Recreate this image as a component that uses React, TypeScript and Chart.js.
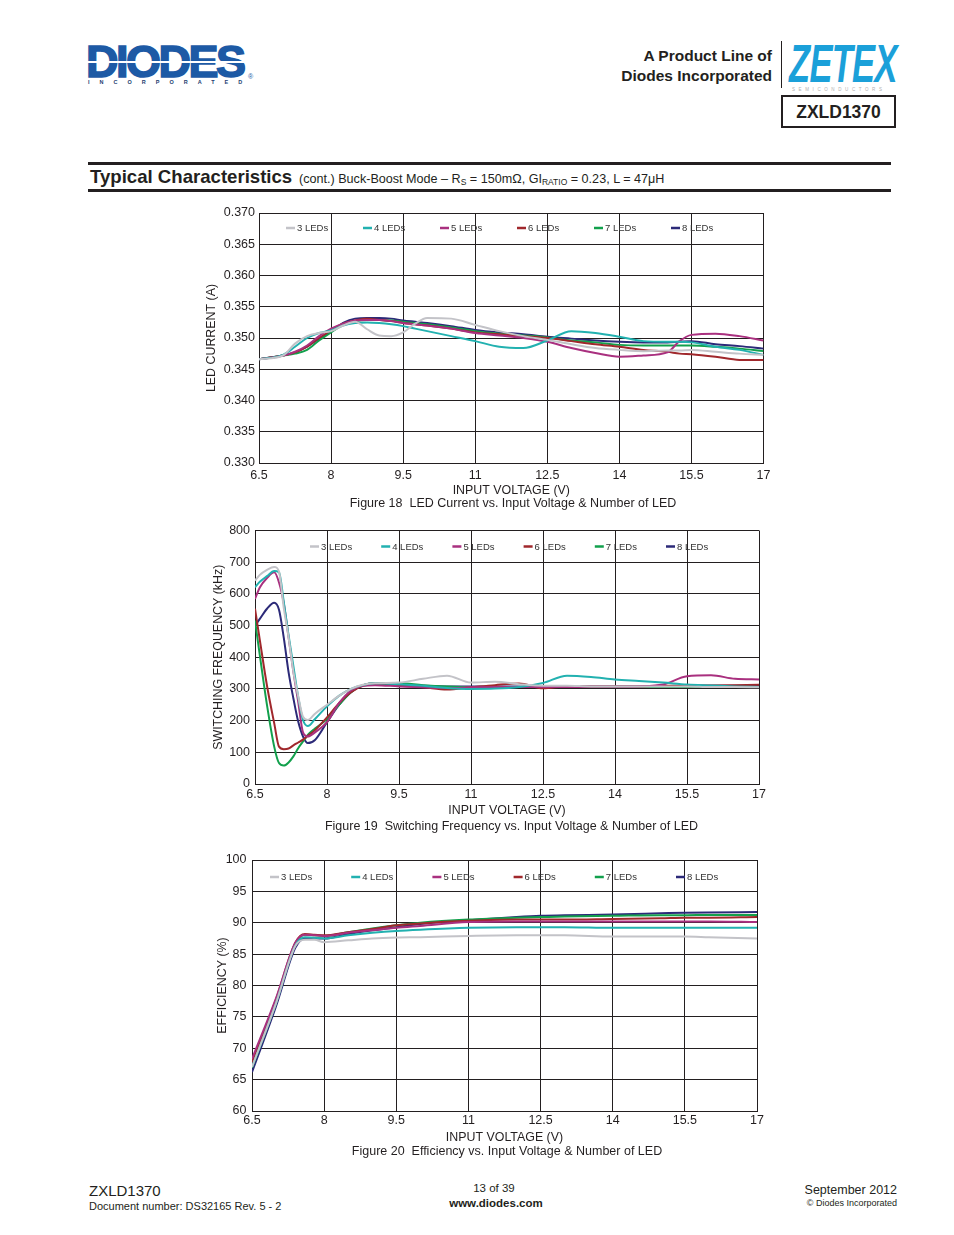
import React, { useEffect, useRef } from "react";
import { Chart, registerables } from "chart.js";

Chart.register(...registerables);

const FONT = '"Liberation Sans", Arial, Helvetica, sans-serif';
const TXT = "#231f20";
const GRID = "#231f20";

const SERIES_NAMES = ["3 LEDs", "4 LEDs", "5 LEDs", "6 LEDs", "7 LEDs", "8 LEDs"];
const SERIES_COLORS = ["#c3c3c8", "#22b1b0", "#a9307f", "#a0282c", "#12a04c", "#2c2a78"];

const X_TICKS = [6.5, 8, 9.5, 11, 12.5, 14, 15.5, 17];

// ---------- Figure 18: LED current (A) ----------
const VIN_18 = [6.5, 7.0, 7.25, 7.5, 7.75, 8.0, 8.25, 8.5, 8.75, 9.0, 9.25, 9.5, 9.75, 10.0, 10.5, 11.0, 11.5, 12.0, 12.5, 13.0, 13.5, 14.0, 14.5, 15.0, 15.25, 15.5, 16.0, 16.5, 17.0];
const CUR_3LED = [0.3466, 0.3472, 0.3491, 0.3503, 0.3508, 0.3511, 0.3520, 0.3526, 0.3514, 0.3504, 0.3503, 0.3509, 0.3523, 0.3532, 0.3531, 0.3521, 0.3511, 0.3503, 0.3497, 0.3490, 0.3484, 0.3481, 0.3479, 0.3480, 0.3480, 0.3481, 0.3478, 0.3475, 0.3473];
const CUR_4LED = [0.3466, 0.3473, 0.3486, 0.3500, 0.3508, 0.3512, 0.3520, 0.3524, 0.3525, 0.3524, 0.3522, 0.3519, 0.3515, 0.3511, 0.3503, 0.3495, 0.3486, 0.3484, 0.3496, 0.3511, 0.3508, 0.3502, 0.3495, 0.3494, 0.3494, 0.3493, 0.3486, 0.3481, 0.3473];
const CUR_5LED = [0.3466, 0.3472, 0.3478, 0.3488, 0.3503, 0.3515, 0.3523, 0.3528, 0.3529, 0.3529, 0.3527, 0.3524, 0.3522, 0.3520, 0.3515, 0.3508, 0.3504, 0.3500, 0.3494, 0.3484, 0.3476, 0.3470, 0.3472, 0.3477, 0.3495, 0.3505, 0.3507, 0.3503, 0.3496];
const CUR_6LED = [0.3466, 0.3472, 0.3477, 0.3486, 0.3500, 0.3512, 0.3523, 0.3528, 0.3531, 0.3529, 0.3527, 0.3524, 0.3522, 0.3520, 0.3515, 0.3509, 0.3506, 0.3503, 0.3500, 0.3495, 0.3490, 0.3486, 0.3481, 0.3478, 0.3475, 0.3474, 0.3470, 0.3465, 0.3465];
const CUR_7LED = [0.3466, 0.3472, 0.3475, 0.3481, 0.3496, 0.3509, 0.3521, 0.3527, 0.3529, 0.3529, 0.3528, 0.3526, 0.3524, 0.3522, 0.3517, 0.3511, 0.3507, 0.3504, 0.3501, 0.3496, 0.3493, 0.3489, 0.3488, 0.3488, 0.3488, 0.3488, 0.3486, 0.3483, 0.3479];
const CUR_8LED = [0.3466, 0.3472, 0.3477, 0.3486, 0.3499, 0.3510, 0.3524, 0.3531, 0.3532, 0.3532, 0.3531, 0.3528, 0.3526, 0.3524, 0.3519, 0.3513, 0.3509, 0.3506, 0.3502, 0.3499, 0.3496, 0.3494, 0.3493, 0.3493, 0.3494, 0.3495, 0.3490, 0.3487, 0.3483];
const Y_TICKS_18 = [0.33, 0.335, 0.34, 0.345, 0.35, 0.355, 0.36, 0.365, 0.37];

// ---------- Figure 19: switching frequency (kHz) ----------
const VIN_19 = [6.5, 6.6, 6.75, 6.9, 7.0, 7.1, 7.2, 7.3, 7.4, 7.5, 7.6, 7.75, 8.0, 8.25, 8.5, 8.75, 9.0, 9.5, 10.0, 10.5, 11.0, 11.5, 12.0, 12.5, 13.0, 13.5, 14.0, 14.5, 15.0, 15.5, 16.0, 16.5, 17.0];
const FSW_3LED = [642, 660, 676, 685, 670, 555, 462, 354, 277, 212, 202, 222, 250, 278, 300, 313, 318, 320, 332, 342, 320, 323, 315, 310, 310, 308, 308, 308, 308, 308, 306, 306, 305];
const FSW_4LED = [621, 638, 656, 672, 668, 574, 469, 372, 275, 202, 183, 205, 245, 278, 300, 312, 318, 315, 310, 303, 300, 301, 306, 319, 342, 338, 330, 325, 320, 314, 311, 308, 306];
const FSW_5LED = [584, 620, 650, 668, 636, 570, 462, 354, 259, 163, 150, 163, 195, 255, 295, 310, 312, 308, 305, 303, 305, 306, 306, 306, 306, 307, 307, 308, 314, 340, 343, 332, 330];
const FSW_6LED = [553, 455, 310, 192, 118, 110, 112, 122, 131, 140, 152, 170, 210, 255, 290, 310, 315, 310, 305, 298, 305, 312, 317, 302, 308, 308, 308, 308, 310, 310, 311, 312, 313];
const FSW_7LED = [516, 407, 249, 118, 66, 58, 68, 87, 113, 134, 155, 175, 205, 250, 290, 312, 318, 318, 312, 308, 306, 306, 306, 306, 306, 306, 306, 306, 306, 306, 306, 306, 306];
const FSW_8LED = [500, 521, 553, 572, 550, 461, 352, 270, 197, 150, 129, 139, 195, 250, 290, 312, 318, 312, 310, 308, 308, 308, 308, 308, 308, 308, 308, 308, 309, 310, 310, 310, 310];
const Y_TICKS_19 = [0, 100, 200, 300, 400, 500, 600, 700, 800];

// ---------- Figure 20: efficiency (%) ----------
const VIN_20 = [6.5, 7.0, 7.4, 7.6, 7.8, 8.0, 8.5, 9.0, 9.5, 10, 11, 12, 12.5, 13, 14, 15, 15.5, 16, 17];
const EFF_3LED = [67.0, 77.2, 86.3, 87.3, 87.3, 86.9, 87.2, 87.5, 87.65, 87.7, 87.9, 88.0, 88.0, 88.0, 87.8, 87.8, 87.8, 87.7, 87.5];
const EFF_4LED = [67.0, 77.2, 86.4, 87.7, 87.6, 87.5, 88.0, 88.4, 88.7, 88.9, 89.2, 89.3, 89.3, 89.3, 89.2, 89.2, 89.2, 89.2, 89.2];
const EFF_5LED = [68.3, 78.0, 86.8, 88.1, 88.0, 87.9, 88.4, 88.8, 89.2, 89.5, 90.1, 90.2, 90.2, 90.2, 90.2, 90.2, 90.2, 90.2, 90.1];
const EFF_6LED = [67.8, 77.8, 86.8, 88.2, 88.1, 88.0, 88.5, 89.0, 89.6, 89.9, 90.3, 90.5, 90.5, 90.5, 90.6, 90.7, 90.8, 90.8, 90.9];
const EFF_7LED = [66.9, 77.3, 86.6, 88.1, 88.0, 87.9, 88.5, 89.1, 89.6, 90.0, 90.5, 90.8, 90.9, 91.0, 91.1, 91.2, 91.2, 91.25, 91.25];
const EFF_8LED = [66.2, 76.7, 86.0, 87.5, 87.5, 87.5, 88.2, 88.8, 89.3, 89.8, 90.4, 90.9, 91.1, 91.2, 91.3, 91.5, 91.6, 91.65, 91.7];
const Y_TICKS_20 = [60, 65, 70, 75, 80, 85, 90, 95, 100];

type Spec = {
  canvasLeft: number;
  canvasTop: number;
  plotLeft: number;
  plotTop: number;
  plotRight: number;
  plotBottom: number;
  xH: number;
  xTickPad: number;
  yTickPad: number;
  yTitle: string;
  yTitleX: number;
  xVals: number[];
  series: number[][];
  yTicks: number[];
  yFmt: (v: number) => string;
  legendX0: number;
  legendPitch: number;
  legendDy: number;
};

const AXIS_TITLE_SIZE = 12.4;

function LineChart({ spec }: { spec: Spec }) {
  const ref = useRef<HTMLCanvasElement>(null);
  const s = spec;
  const padTop = s.plotTop - s.canvasTop;
  const padRight = 12;
  const padBottom = 4;
  const width = s.plotRight + padRight - s.canvasLeft;
  const height = s.plotBottom + s.xH + padBottom - s.canvasTop;
  const yW = s.plotLeft - s.canvasLeft;
  const halfTitle = (AXIS_TITLE_SIZE * 1.2) / 2;

  useEffect(() => {
    const legendPlugin = {
      id: "inlegend",
      afterDatasetsDraw(chart: any) {
        const { ctx, chartArea } = chart;
        ctx.save();
        ctx.font = `9.5px ${FONT}`;
        ctx.textBaseline = "middle";
        chart.data.datasets.forEach((ds: any, i: number) => {
          const x = chartArea.left + s.legendX0 + i * s.legendPitch;
          const y = chartArea.top + s.legendDy;
          ctx.strokeStyle = ds.borderColor;
          ctx.lineWidth = 2.5;
          ctx.beginPath();
          ctx.moveTo(x, y);
          ctx.lineTo(x + 9, y);
          ctx.stroke();
          ctx.fillStyle = "#333";
          ctx.fillText(ds.label, x + 11, y + 0.5);
        });
        ctx.restore();
      },
    };

    const chart = new Chart(ref.current as HTMLCanvasElement, {
      type: "line",
      data: {
        datasets: s.series.map((vals, i) => ({
          label: SERIES_NAMES[i],
          data: s.xVals.map((x, j) => ({ x, y: vals[j] })),
          borderColor: SERIES_COLORS[i],
          backgroundColor: SERIES_COLORS[i],
          borderWidth: 2,
          pointRadius: 0,
          fill: false,
          cubicInterpolationMode: "monotone",
        })),
      },
      options: {
        animation: false,
        responsive: false,
        maintainAspectRatio: false,
        devicePixelRatio: 1,
        layout: { padding: { left: 0, top: padTop, right: padRight, bottom: padBottom } },
        plugins: {
          legend: { display: false },
          tooltip: { enabled: false },
          title: { display: false },
        },
        scales: {
          x: {
            type: "linear",
            min: X_TICKS[0],
            max: X_TICKS[X_TICKS.length - 1],
            afterBuildTicks: (sc: any) => {
              sc.ticks = X_TICKS.map((v) => ({ value: v }));
            },
            afterFit: (sc: any) => {
              sc.height = s.xH;
            },
            grid: { color: GRID, lineWidth: 1, drawTicks: false },
            border: { color: GRID, width: 1 },
            ticks: {
              autoSkip: false,
              maxRotation: 0,
              minRotation: 0,
              padding: s.xTickPad,
              color: TXT,
              font: { family: FONT, size: 12.5 },
              callback: (v: any) => String(v),
            },
            title: {
              display: true,
              text: "INPUT VOLTAGE (V)",
              color: TXT,
              font: { family: FONT, size: AXIS_TITLE_SIZE },
              padding: { top: 0, bottom: 0 },
            },
          },
          y: {
            type: "linear",
            min: s.yTicks[0],
            max: s.yTicks[s.yTicks.length - 1],
            afterBuildTicks: (sc: any) => {
              sc.ticks = s.yTicks.map((v) => ({ value: v }));
            },
            afterFit: (sc: any) => {
              sc.width = yW;
            },
            grid: { color: GRID, lineWidth: 1, drawTicks: false },
            border: { color: GRID, width: 1 },
            ticks: {
              autoSkip: false,
              padding: s.yTickPad,
              color: TXT,
              font: { family: FONT, size: 12.5 },
              callback: (v: any) => s.yFmt(Number(v)),
            },
            title: {
              display: true,
              text: s.yTitle,
              color: TXT,
              font: { family: FONT, size: AXIS_TITLE_SIZE },
              padding: { top: s.yTitleX - s.canvasLeft - halfTitle, bottom: 0 },
            },
          },
        },
      } as any,
      plugins: [legendPlugin],
    });
    return () => chart.destroy();
  }, []);

  return (
    <canvas
      ref={ref}
      width={width}
      height={height}
      style={{ position: "absolute", left: s.canvasLeft, top: s.canvasTop, width, height, display: "block" }}
    />
  );
}

function Txt({ x, y, size, bold, italic, align = "left", color = TXT, children, style }: any) {
  const base: React.CSSProperties = {
    position: "absolute",
    top: y - 0.8465 * size,
    fontSize: size,
    lineHeight: `${size}px`,
    fontFamily: FONT,
    fontWeight: bold ? 700 : 400,
    fontStyle: italic ? "italic" : "normal",
    color,
    whiteSpace: "pre",
    ...style,
  };
  if (align === "left") return <div style={{ ...base, left: x }}>{children}</div>;
  if (align === "right") return <div style={{ ...base, right: 954 - x, textAlign: "right" }}>{children}</div>;
  return <div style={{ ...base, left: x - 400, width: 800, textAlign: "center" }}>{children}</div>;
}

const SPEC_18: Spec = {
  canvasLeft: 195,
  canvasTop: 201,
  plotLeft: 259,
  plotTop: 213,
  plotRight: 764,
  plotBottom: 463,
  xH: 35,
  xTickPad: 5.5,
  yTickPad: 4,
  yTitle: "LED CURRENT (A)",
  yTitleX: 212,
  xVals: VIN_18,
  series: [CUR_3LED, CUR_4LED, CUR_5LED, CUR_6LED, CUR_7LED, CUR_8LED],
  yTicks: Y_TICKS_18,
  yFmt: (v) => v.toFixed(3),
  legendX0: 27,
  legendPitch: 77,
  legendDy: 15,
};

const SPEC_19: Spec = {
  canvasLeft: 195,
  canvasTop: 518,
  plotLeft: 255,
  plotTop: 530,
  plotRight: 759,
  plotBottom: 784,
  xH: 34,
  xTickPad: 3.5,
  yTickPad: 5,
  yTitle: "SWITCHING FREQUENCY (kHz)",
  yTitleX: 218.5,
  xVals: VIN_19,
  series: [FSW_3LED, FSW_4LED, FSW_5LED, FSW_6LED, FSW_7LED, FSW_8LED],
  yTicks: Y_TICKS_19,
  yFmt: (v) => String(v),
  legendX0: 55,
  legendPitch: 71.2,
  legendDy: 16,
};

const SPEC_20: Spec = {
  canvasLeft: 195,
  canvasTop: 847,
  plotLeft: 252,
  plotTop: 859,
  plotRight: 757,
  plotBottom: 1111,
  xH: 34,
  xTickPad: 2.5,
  yTickPad: 5.5,
  yTitle: "EFFICIENCY (%)",
  yTitleX: 222.5,
  xVals: VIN_20,
  series: [EFF_3LED, EFF_4LED, EFF_5LED, EFF_6LED, EFF_7LED, EFF_8LED],
  yTicks: Y_TICKS_20,
  yFmt: (v) => String(v),
  legendX0: 18,
  legendPitch: 81.2,
  legendDy: 17,
};

const sub: React.CSSProperties = { fontSize: 8.5, verticalAlign: -2 };

export default function App() {
  return (
    <div
      style={{
        position: "absolute",
        left: 0,
        top: 0,
        width: 954,
        height: 1235,
        overflow: "hidden",
        background: "#fff",
        fontFamily: FONT,
      }}
    >
      {/* DIODES logo */}
      <Txt
        x={86}
        y={77.5}
        size={45}
        bold
        color="#1d5aa5"
        style={{ letterSpacing: -2.5, WebkitTextStroke: "1.6px #1d5aa5" }}
      >
        DIODES
      </Txt>
      <div style={{ position: "absolute", left: 84, top: 61, width: 166, height: 1.5, background: "#fff" }} />
      <Txt x={88} y={85} size={5.5} bold color="#1d3d70" style={{ letterSpacing: 10 }}>
        INCORPORATED
      </Txt>
      <Txt x={248} y={79} size={7} color="#1d5aa5">
        ®
      </Txt>

      {/* Right header */}
      <Txt x={772} y={61} size={15.5} bold align="right">
        A Product Line of
      </Txt>
      <Txt x={772} y={81} size={15.5} bold align="right">
        Diodes Incorporated
      </Txt>
      <div style={{ position: "absolute", left: 781, top: 41, width: 1, height: 47, background: "#231f20" }} />
      <Txt
        x={789}
        y={82}
        size={53}
        bold
        italic
        color="#1ba0d9"
        style={{ transform: "scaleX(0.65)", transformOrigin: "left center", letterSpacing: -1 }}
      >
        ZETEX
      </Txt>
      <Txt x={792} y={92} size={4.5} color="#b0b0b0" style={{ letterSpacing: 3.6 }}>
        SEMICONDUCTORS
      </Txt>
      <div
        style={{
          position: "absolute",
          left: 781,
          top: 95,
          width: 111,
          height: 29,
          border: "2px solid #231f20",
        }}
      />
      <Txt x={838.5} y={118.5} size={17.5} bold align="center">
        ZXLD1370
      </Txt>

      {/* Section title */}
      <div style={{ position: "absolute", left: 88, top: 162, width: 803, height: 3, background: "#231f20" }} />
      <div style={{ position: "absolute", left: 88, top: 189, width: 803, height: 3, background: "#231f20" }} />
      <Txt x={90} y={184} size={18.6} bold>
        Typical Characteristics
      </Txt>
      <Txt x={299} y={184} size={12.6}>
        (cont.) Buck-Boost Mode – R<span style={sub}>S</span> = 150mΩ, GI<span style={sub}>RATIO</span> = 0.23, L = 47μH
      </Txt>

      {/* Charts */}
      <LineChart spec={SPEC_18} />
      <Txt x={513} y={508} size={12.5} align="center">
        {"Figure 18  LED Current vs. Input Voltage & Number of LED"}
      </Txt>

      <LineChart spec={SPEC_19} />
      <Txt x={511.5} y={830.5} size={12.5} align="center">
        {"Figure 19  Switching Frequency vs. Input Voltage & Number of LED"}
      </Txt>

      <LineChart spec={SPEC_20} />
      <Txt x={507} y={1156} size={12.5} align="center">
        {"Figure 20  Efficiency vs. Input Voltage & Number of LED"}
      </Txt>

      {/* Footer */}
      <Txt x={89} y={1196} size={15}>
        ZXLD1370
      </Txt>
      <Txt x={89} y={1210} size={11}>
        Document number: DS32165 Rev. 5 - 2
      </Txt>
      <Txt x={494} y={1193} size={11.5} align="center">
        13 of 39
      </Txt>
      <Txt x={496} y={1208} size={11.5} bold align="center">
        www.diodes.com
      </Txt>
      <Txt x={897} y={1195} size={12.5} align="right">
        September 2012
      </Txt>
      <Txt x={897} y={1207} size={9} align="right">
        © Diodes Incorporated
      </Txt>
    </div>
  );
}
